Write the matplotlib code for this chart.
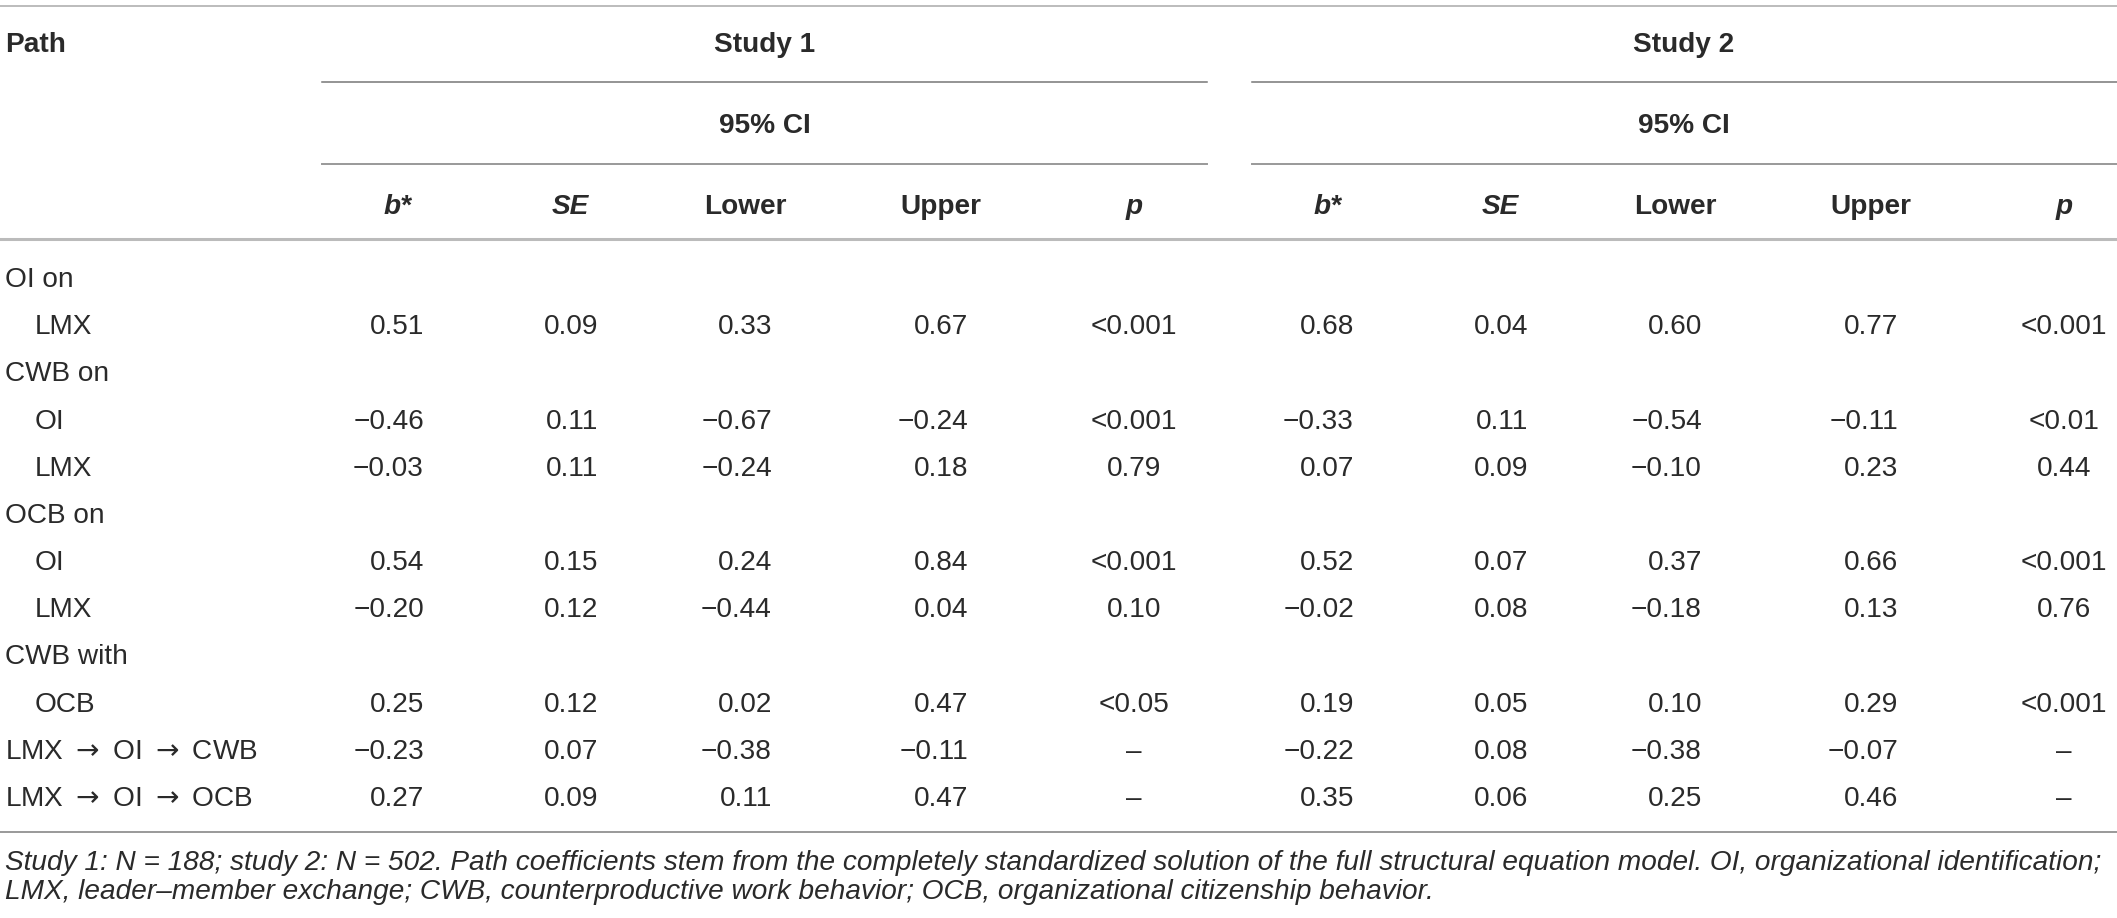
import matplotlib
matplotlib.use("Agg")
import matplotlib.pyplot as plt

plt.rcParams["mathtext.fontset"] = "dejavusans"

# table content
paths = ["OI on", "LMX", "CWB on", "OI", "LMX", "OCB on", "OI", "LMX",
         "CWB with", "OCB", "LMX $\\rightarrow$ OI $\\rightarrow$ CWB",
         "LMX $\\rightarrow$ OI $\\rightarrow$ OCB"]
indented = [False, True, False, True, True, False, True, True, False, True, False, False]

study1_b = [None, 0.51, None, -0.46, -0.03, None, 0.54, -0.20, None, 0.25, -0.23, 0.27]
study1_se = [None, 0.09, None, 0.11, 0.11, None, 0.15, 0.12, None, 0.12, 0.07, 0.09]
study1_lower = [None, 0.33, None, -0.67, -0.24, None, 0.24, -0.44, None, 0.02, -0.38, 0.11]
study1_upper = [None, 0.67, None, -0.24, 0.18, None, 0.84, 0.04, None, 0.47, -0.11, 0.47]
study1_p = [None, "<0.001", None, "<0.001", "0.79", None, "<0.001", "0.10", None, "<0.05", "\u2013", "\u2013"]

study2_b = [None, 0.68, None, -0.33, 0.07, None, 0.52, -0.02, None, 0.19, -0.22, 0.35]
study2_se = [None, 0.04, None, 0.11, 0.09, None, 0.07, 0.08, None, 0.05, 0.08, 0.06]
study2_lower = [None, 0.60, None, -0.54, -0.10, None, 0.37, -0.18, None, 0.10, -0.38, 0.25]
study2_upper = [None, 0.77, None, -0.11, 0.23, None, 0.66, 0.13, None, 0.29, -0.07, 0.46]
study2_p = [None, "<0.001", None, "<0.01", "0.44", None, "<0.001", "0.76", None, "<0.001", "\u2013", "\u2013"]

study_titles = ["Study 1", "Study 2"]
col_headers = ["b*", "SE", "Lower", "Upper", "p"]
italic_headers = [True, True, False, False, True]
footnote = [
    "Study 1: N = 188; study 2: N = 502. Path coefficients stem from the completely standardized "
    "solution of the full structural equation model. OI, organizational identification;",
    "LMX, leader\u2013member exchange; CWB, counterproductive work behavior; "
    "OCB, organizational citizenship behavior.",
]

FONT = ["Liberation Sans", "DejaVu Sans"]
FS = 20.2
TXT = "#2a2a2a"
W, H = 2117, 918


def fmt(v):
    return f"{v:.2f}".replace("-", "\u2212")


fig = plt.figure(figsize=(W / 100, H / 100), dpi=100)
ax = fig.add_axes([0, 0, 1, 1])
ax.set_xlim(0, W)
ax.set_ylim(H, 0)
ax.axis("off")

# rules
ax.plot([0, W], [5.5, 5.5], color="#aaaaaa", lw=1.1)
for x0, x1 in [(322, 1207), (1252, W)]:
    ax.plot([x0, x1], [82, 82], color="#777777", lw=1.1)
    ax.plot([x0, x1], [164, 164], color="#999999", lw=1.4)
ax.plot([0, W], [239, 239], color="#bbbbbb", lw=2.2)
ax.plot([0, W], [832, 832], color="#999999", lw=1.4)

# header
ax.text(5, 52, "Path", fontsize=FS, fontweight="bold", family=FONT, color=TXT)
header_centers = [398, 570, 745, 941, 1134]
right_edges = [424, 598, 772, 968]
offset = 930
for k, title in enumerate(study_titles):
    cx = 765 + k * (1684 - 765)
    ax.text(cx, 52, title, fontsize=FS, fontweight="bold", family=FONT, color=TXT, ha="center")
    ax.text(cx, 133, "95% CI", fontsize=FS, fontweight="bold", family=FONT, color=TXT, ha="center")
    for j, lab in enumerate(col_headers):
        ax.text(header_centers[j] + k * offset, 214, lab, fontsize=FS, fontweight="bold",
                style="italic" if italic_headers[j] else "normal", family=FONT,
                color=TXT, ha="center")

# body
row0, step = 287, 47.18
for i, name in enumerate(paths):
    y = row0 + i * step
    ax.text(35 if indented[i] else 5, y, name, fontsize=FS, family=FONT, color=TXT)
    for k, cols in enumerate([(study1_b, study1_se, study1_lower, study1_upper, study1_p),
                              (study2_b, study2_se, study2_lower, study2_upper, study2_p)]):
        for j in range(4):
            v = cols[j][i]
            if v is not None:
                ax.text(right_edges[j] + k * offset, y, fmt(v), fontsize=FS, family=FONT,
                        color=TXT, ha="right")
        pv = cols[4][i]
        if pv is not None:
            ax.text(header_centers[4] + k * offset, y, pv, fontsize=FS, family=FONT,
                    color=TXT, ha="center")

# footnote
for i, line in enumerate(footnote):
    ax.text(5, 870 + i * 29, line, fontsize=20.2, style="italic", family=FONT, color=TXT)

fig.savefig("out.png", dpi=100)
